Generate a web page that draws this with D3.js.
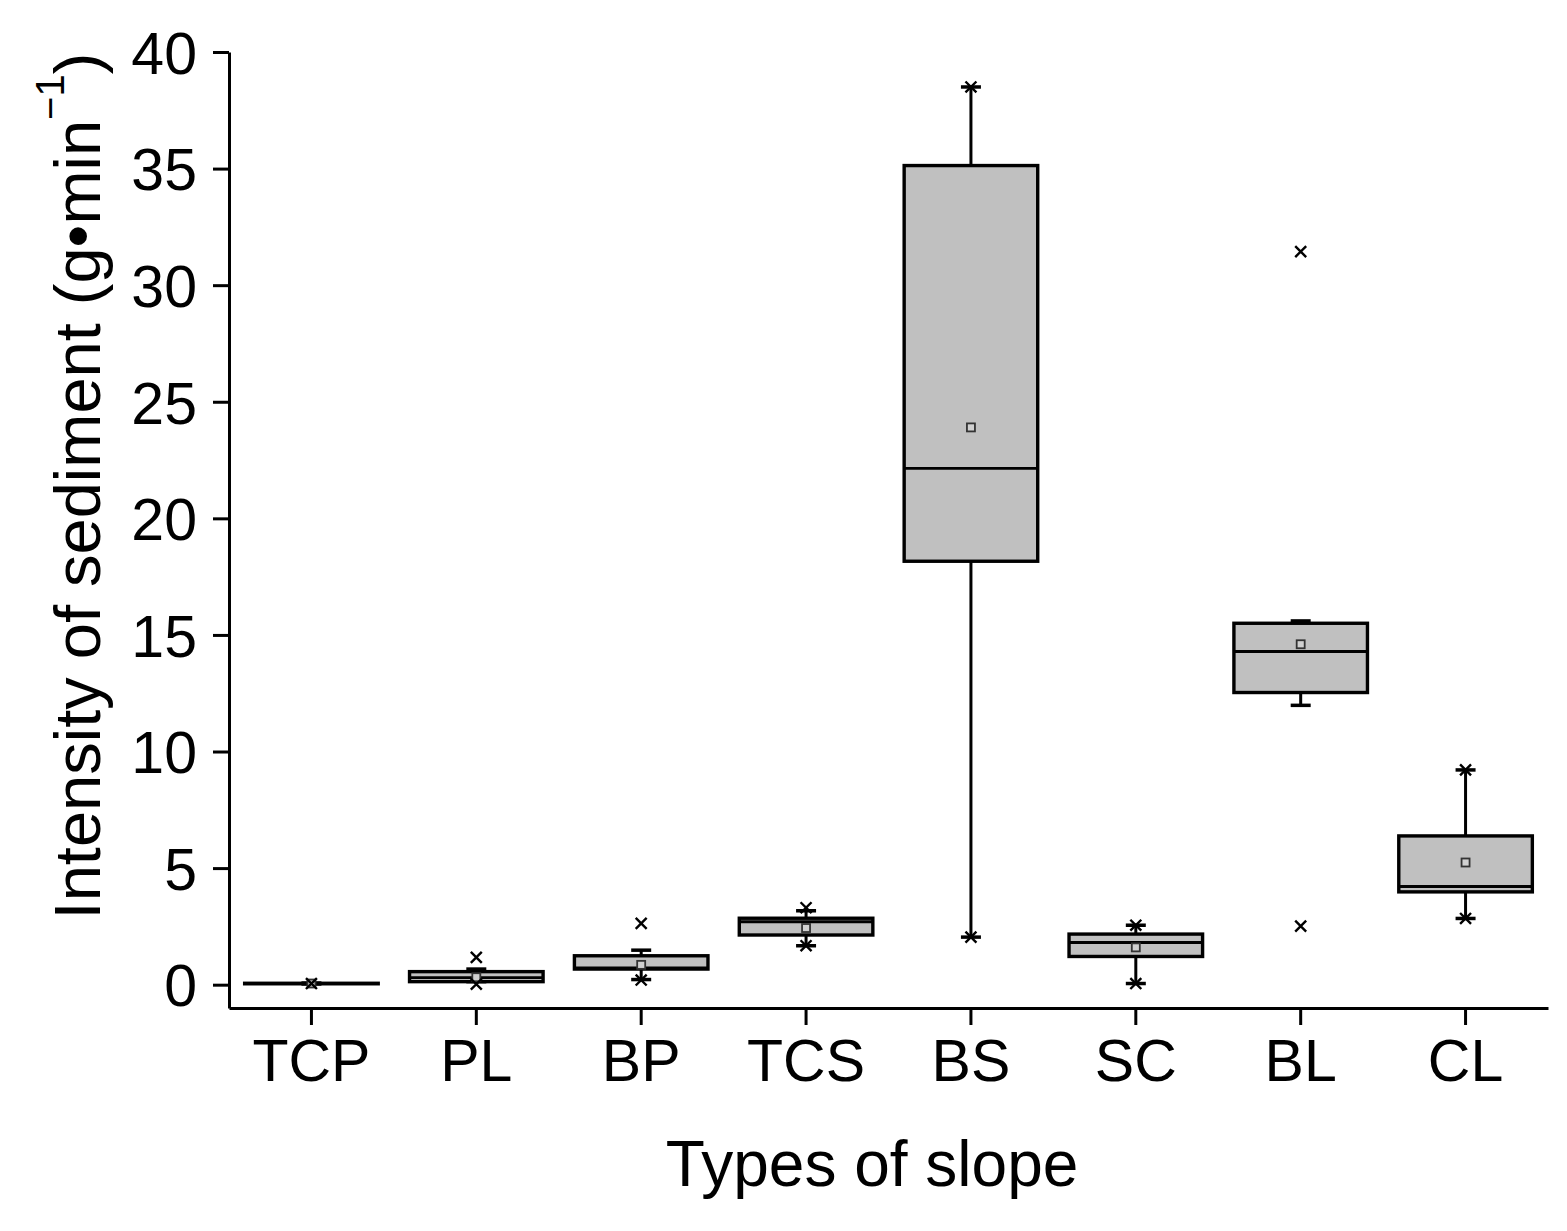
<!DOCTYPE html>
<html>
<head>
<meta charset="utf-8">
<script src="https://cdn.jsdelivr.net/npm/d3@7"></script>
<style>
  body { margin: 0; background: #fff; }
  svg { display: block; }
  text { font-family: "Liberation Sans", Arial, sans-serif; fill: #000; }
</style>
</head>
<body>
<svg id="chart"></svg>
<script>
// slope types and box statistics
const categories = ["TCP", "PL", "BP", "TCS", "BS", "SC", "BL", "CL"];
const whiskerLow  = [0.03, 0.13, 0.22, 1.67, 2.04, 0.05, 11.98, 2.84];
const q1          = [0.04, 0.13, 0.67, 2.13, 18.16, 1.21, 12.53, 3.98];
const medians     = [0.05, 0.30, 0.72, 2.70, 22.14, 1.81, 14.29, 4.21];
const q3          = [0.06, 0.56, 1.24, 2.85, 35.13, 2.17, 15.50, 6.38];
const whiskerHigh = [0.07, 0.67, 1.48, 3.17, 38.50, 2.55, 15.60, 9.21];
const means       = [0.05, 0.32, 0.85, 2.43, 23.90, 1.60, 14.60, 5.24];
// points drawn as crosses (outliers and extreme values)
const outliers = [
    [0.05],
    [1.17, 0.02],
    [2.63, 0.20],
    [3.30, 1.67],
    [38.50, 2.04],
    [2.55, 0.05],
    [31.44, 2.51],
    [9.21, 2.84]
];
const yTicks = [0, 5, 10, 15, 20, 25, 30, 35, 40];

const config = {
    width: 1567,
    height: 1231,
    left: 229,
    right: 1548,
    top: 52,
    bottom: 1008
};

const svg = d3.select("#chart")
    .attr("width", config.width)
    .attr("height", config.height);

const data = categories.map((c, i) => ({
    cat: c,
    lo: whiskerLow[i], q1: q1[i], med: medians[i], q3: q3[i], hi: whiskerHigh[i],
    mean: means[i], out: outliers[i]
}));

// scales
const xScale = d3.scaleBand()
    .domain(categories)
    .range([config.left, config.right])
    .padding(0);
const yScale = d3.scaleLinear()
    .domain([-1, 40])
    .range([config.bottom, config.top]);

const boxW = xScale.bandwidth() * 0.81;
const capW = 20;
const cx = d => xScale(d.cat) + xScale.bandwidth() / 2;

// axes
const yAxis = d3.axisLeft(yScale).tickValues(yTicks).tickSize(16).tickPadding(16).tickSizeOuter(0);
const xAxis = d3.axisBottom(xScale).tickSize(17).tickPadding(12).tickSizeOuter(0);

const yAxisG = svg.append("g")
    .attr("class", "axis y-axis")
    .attr("transform", `translate(${config.left},0)`)
    .call(yAxis);
const xAxisG = svg.append("g")
    .attr("class", "axis x-axis")
    .attr("transform", `translate(0,${config.bottom})`)
    .call(xAxis);

[yAxisG, xAxisG].forEach(g => {
    g.select(".domain").attr("stroke", "#000").attr("stroke-width", 3);
    g.selectAll(".tick line").attr("stroke", "#000").attr("stroke-width", 3);
    g.selectAll(".tick text")
        .attr("font-family", "Liberation Sans, Arial, sans-serif")
        .attr("font-size", 59)
        .attr("fill", "#000");
});
yAxisG.selectAll(".tick text").attr("dy", "0.36em");
xAxisG.selectAll(".tick text").attr("dy", "0.74em");

// boxes
const boxes = svg.append("g").selectAll("g.box")
    .data(data)
    .join("g")
    .attr("class", "box");

// whiskers
boxes.append("line")
    .attr("x1", cx).attr("x2", cx)
    .attr("y1", d => yScale(d.q3)).attr("y2", d => yScale(d.hi))
    .attr("stroke", "#000").attr("stroke-width", 3);
boxes.append("line")
    .attr("x1", cx).attr("x2", cx)
    .attr("y1", d => yScale(d.q1)).attr("y2", d => yScale(d.lo))
    .attr("stroke", "#000").attr("stroke-width", 3);
boxes.append("line")
    .attr("x1", d => cx(d) - capW / 2).attr("x2", d => cx(d) + capW / 2)
    .attr("y1", d => yScale(d.hi)).attr("y2", d => yScale(d.hi))
    .attr("stroke", "#000").attr("stroke-width", 3.5);
boxes.append("line")
    .attr("x1", d => cx(d) - capW / 2).attr("x2", d => cx(d) + capW / 2)
    .attr("y1", d => yScale(d.lo)).attr("y2", d => yScale(d.lo))
    .attr("stroke", "#000").attr("stroke-width", 3.5);

// box body
boxes.append("rect")
    .attr("x", d => cx(d) - boxW / 2)
    .attr("width", boxW)
    .attr("y", d => yScale(d.q3))
    .attr("height", d => Math.max(yScale(d.q1) - yScale(d.q3), 0.5))
    .attr("fill", "#c0c0c0")
    .attr("stroke", "#000")
    .attr("stroke-width", 3.4);

// median
boxes.append("line")
    .attr("x1", d => cx(d) - boxW / 2).attr("x2", d => cx(d) + boxW / 2)
    .attr("y1", d => yScale(d.med)).attr("y2", d => yScale(d.med))
    .attr("stroke", "#000").attr("stroke-width", 2.8);

// mean marker
boxes.append("rect")
    .attr("x", d => cx(d) - 4)
    .attr("y", d => yScale(d.mean) - 4)
    .attr("width", 8).attr("height", 8)
    .attr("fill", "#d0d0d0")
    .attr("stroke", "#333")
    .attr("stroke-width", 1.8);

// outliers as small crosses
const cross = d3.symbol().type(d3.symbolX).size(80);
boxes.each(function(d) {
    d3.select(this).selectAll("path.out")
        .data(d.out)
        .join("path")
        .attr("class", "out")
        .attr("d", cross)
        .attr("transform", v => `translate(${cx(d)},${yScale(v)})`)
        .attr("fill", "none")
        .attr("stroke", "#000")
        .attr("stroke-width", 2.4);
});

// axis titles
svg.append("text")
    .attr("x", 872)
    .attr("y", 1186)
    .attr("text-anchor", "middle")
    .attr("font-size", 64)
    .text("Types of slope");

const yTitle = svg.append("text")
    .attr("transform", `translate(100,486) rotate(-90)`)
    .attr("text-anchor", "middle")
    .attr("font-size", 65);
yTitle.append("tspan").text("Intensity of sediment (g\u2022min");
yTitle.append("tspan").attr("font-size", 40).attr("dy", "-0.9em").text("\u22121");
yTitle.append("tspan").attr("dy", "0.56em").text(")");
</script>
</body>
</html>
